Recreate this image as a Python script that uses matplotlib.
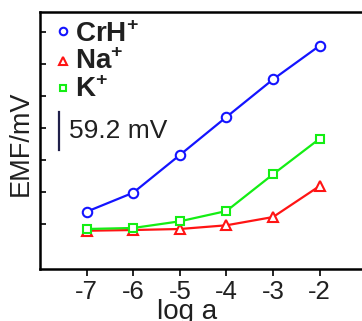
import matplotlib
matplotlib.use("Agg")
import matplotlib.pyplot as plt

plt.rcParams["font.family"] = ["Liberation Sans", "DejaVu Sans"]
plt.rcParams["mathtext.fontset"] = "custom"
plt.rcParams["mathtext.rm"] = "Liberation Sans"
plt.rcParams["mathtext.bf"] = "Liberation Sans:bold"

# log activity of the primary ion
log_a = [-7, -6, -5, -4, -3, -2]

# EMF responses (mV)
emf_crh = [19.2, 48.9, 107.8, 167.2, 226.0, 278.6]
emf_na = [-10.5, -9.4, -7.8, -2.0, 10.9, 59.4]
emf_k = [-7.8, -6.2, 4.2, 20.3, 77.7, 133.3]

series_labels = [r"$\mathbf{CrH}^{\mathbf{+}}$", r"$\mathbf{Na}^{\mathbf{+}}$", r"$\mathbf{K}^{\mathbf{+}}$"]
xtick_values = [-7, -6, -5, -4, -3, -2]
ytick_values = [0, 50, 100, 150, 200, 250, 300]

scale_mv = 59.2
scale_x = -7.59
scale_bottom = 115.6

BLUE, RED, GREEN = "#1414ff", "#ff1414", "#14ee14"
TEXT = "#202020"

fig = plt.figure(figsize=(3.62, 3.21), dpi=100)
ax = fig.add_axes([40 / 362, 52 / 321, 330 / 362, 257 / 321])

ax.plot(log_a, emf_crh, color=BLUE, lw=1.6, marker="o", ms=6.8,
        mfc="white", mec=BLUE, mew=1.5)
ax.plot(log_a, emf_na, color=RED, lw=1.6, marker="^", ms=6.8,
        mfc="white", mec=RED, mew=1.5)
ax.plot(log_a, emf_k, color=GREEN, lw=1.6, marker="s", ms=5.6,
        mfc="white", mec=GREEN, mew=1.5)

ax.set_xlim(-8.0, -0.92)
ax.set_ylim(-70.3, 331.25)
ax.set_xticks(xtick_values)
ax.set_xticklabels([f"{v}" for v in xtick_values])
ax.set_yticks(ytick_values)
ax.set_yticklabels([])
ax.tick_params(axis="x", direction="out", length=5, width=1.2, labelsize=18.5,
               pad=3, labelcolor=TEXT)
ax.tick_params(axis="y", direction="in", length=4, width=1.2)
for s in ax.spines.values():
    s.set_linewidth(1.8)
ax.spines["right"].set_visible(False)

ax.set_xlabel("log a", fontsize=20, color=TEXT)
ax.xaxis.set_label_coords(0.447, -0.118)
ax.set_ylabel("EMF/mV", fontsize=19.5, color=TEXT)
ax.yaxis.set_label_coords(-0.02, 0.49)

# scale bar
ax.plot([scale_x, scale_x], [scale_bottom, scale_bottom + scale_mv],
        color="#20204a", lw=1.6)
ax.text(scale_x + 0.22, scale_bottom + scale_mv / 2, f"{scale_mv} mV",
        fontsize=19, va="center", ha="left", color=TEXT)

# legend: marker column and bold labels
legend_rows = [
    ("o", 5.4, BLUE, 0.926, 0.885),
    ("^", 5.4, RED, 0.809, 0.779),
    ("s", 4.8, GREEN, 0.704, 0.668),
]
for (mk, size, col, ym, yt), label in zip(legend_rows, series_labels):
    ax.plot([0.07], [ym], transform=ax.transAxes, ls="none", marker=mk, ms=size,
            mfc="white", mec=col, mew=1.5, clip_on=False)
    ax.text(0.106, yt, label, transform=ax.transAxes, fontsize=20,
            ha="left", va="baseline", color=TEXT)

fig.savefig("out.png", dpi=100)
